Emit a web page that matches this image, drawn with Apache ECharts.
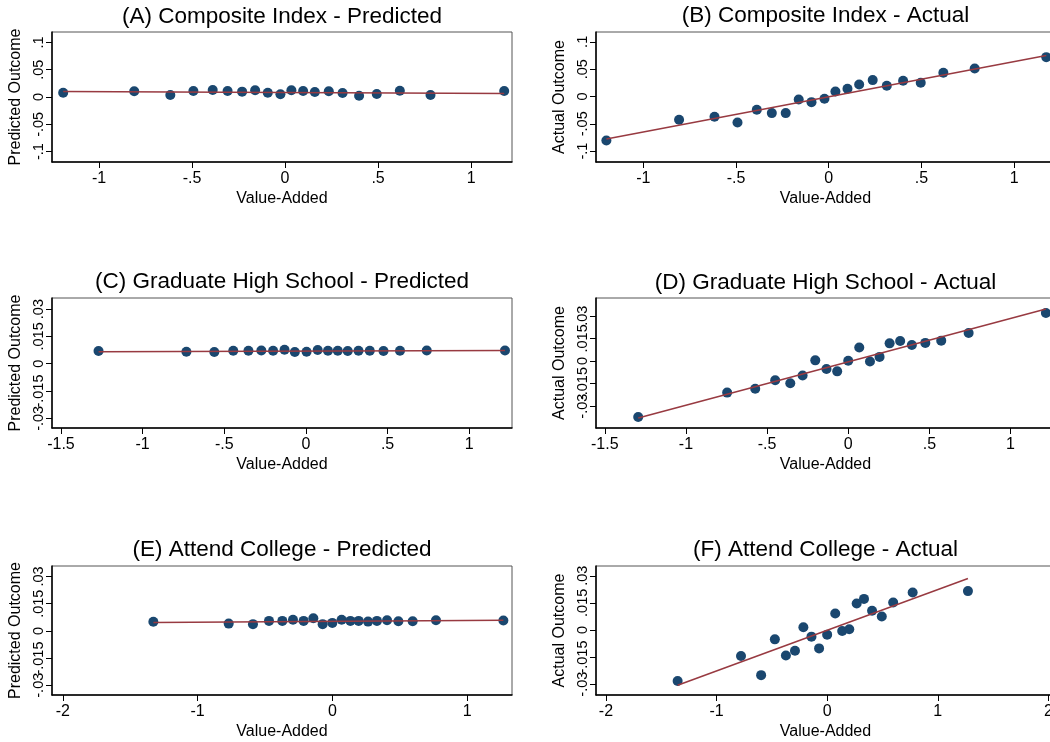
<!DOCTYPE html>
<html><head><meta charset="utf-8">
<script src="https://cdn.jsdelivr.net/npm/echarts@6/dist/echarts.min.js"></script>
<style>html,body{margin:0;padding:0;background:#fff;overflow:hidden;} #c{width:1060px;height:742px;}</style>
</head><body><div id="c"></div>
<script>
// ---------- data ----------
const titles = [
  '(A) Composite Index - Predicted', '(B) Composite Index - Actual',
  '(C) Graduate High School - Predicted', '(D) Graduate High School - Actual',
  '(E) Attend College - Predicted', '(F) Attend College - Actual'
];
const xTitle = 'Value-Added';
const yTitles = ['Predicted Outcome', 'Actual Outcome'];

const xA = [-1.193,-0.811,-0.617,-0.493,-0.389,-0.309,-0.231,-0.161,-0.093,-0.025,0.034,0.097,0.160,0.235,0.309,0.398,0.493,0.617,0.782,1.178];
const yA = [0.0079,0.0104,0.0037,0.0110,0.0128,0.0110,0.0098,0.0122,0.0079,0.0049,0.0122,0.0110,0.0091,0.0104,0.0073,0.0024,0.0055,0.0116,0.0037,0.0110];
const xB = [-1.199,-0.807,-0.616,-0.492,-0.388,-0.307,-0.232,-0.162,-0.093,-0.023,0.036,0.101,0.164,0.237,0.313,0.401,0.496,0.618,0.787,1.173];
const yB = [-0.0805,-0.0427,-0.0372,-0.0476,-0.0244,-0.0305,-0.0305,-0.0055,-0.0104,-0.0043,0.0091,0.0140,0.0220,0.0299,0.0195,0.0287,0.0250,0.0433,0.0512,0.0720];
const xC = [-1.270,-0.732,-0.561,-0.445,-0.352,-0.273,-0.201,-0.131,-0.068,0.004,0.072,0.135,0.195,0.256,0.322,0.391,0.475,0.576,0.740,1.219];
const yC = [0.0070,0.0066,0.0064,0.0071,0.0071,0.0073,0.0071,0.0077,0.0064,0.0066,0.0075,0.0071,0.0071,0.0070,0.0071,0.0071,0.0070,0.0071,0.0073,0.0073];
const xD = [-1.294,-0.746,-0.573,-0.450,-0.357,-0.281,-0.203,-0.134,-0.068,0.000,0.068,0.134,0.193,0.255,0.320,0.392,0.475,0.573,0.742,1.218];
const yD = [-0.0372,-0.0210,-0.0184,-0.0128,-0.0148,-0.0097,0.0004,-0.0053,-0.0069,0.0002,0.0089,-0.0004,0.0027,0.0117,0.0133,0.0106,0.0120,0.0135,0.0186,0.0319];
const xE = [-1.328,-0.769,-0.589,-0.470,-0.371,-0.292,-0.213,-0.141,-0.072,0.000,0.069,0.134,0.195,0.265,0.331,0.406,0.490,0.596,0.769,1.269];
const yE = [0.0050,0.0040,0.0037,0.0055,0.0055,0.0061,0.0055,0.0070,0.0037,0.0044,0.0061,0.0055,0.0055,0.0051,0.0055,0.0059,0.0053,0.0053,0.0059,0.0057];
const xF = [-1.352,-0.779,-0.597,-0.473,-0.373,-0.291,-0.215,-0.142,-0.073,0.000,0.073,0.136,0.200,0.267,0.333,0.406,0.494,0.597,0.773,1.273];
const yF = [-0.0283,-0.0144,-0.0250,-0.0052,-0.0141,-0.0115,0.0015,-0.0037,-0.0102,-0.0026,0.0091,-0.0006,0.0004,0.0146,0.0172,0.0106,0.0074,0.0152,0.0207,0.0215];

// fitted-line end points (x0, y0, x1, y1)
const fitA = [-1.193, 0.0101, 1.178, 0.0064];
const fitB = [-1.199, -0.0780, 1.173, 0.0750];
const fitC = [-1.270, 0.0066, 1.219, 0.0073];
const fitD = [-1.294, -0.0379, 1.218, 0.0345];
const fitE = [-1.328, 0.0046, 1.269, 0.0059];
const fitF = [-1.352, -0.0306, 1.273, 0.0285];

// tick values
const xTicksAB = [-1, -0.5, 0, 0.5, 1];
const yTicksAB = [-0.1, -0.05, 0, 0.05, 0.1];
const xTicksCD = [-1.5, -1, -0.5, 0, 0.5, 1];
const yTicksCDEF = [-0.03, -0.015, 0, 0.015, 0.03];
const xTicksE = [-2, -1, 0, 1];
const xTicksF = [-2, -1, 0, 1, 2];

// ---------- layout ----------
const panels = [
  {x: xA, y: yA, fit: fitA, xt: xTicksAB, yt: yTicksAB, yName: yTitles[0], left: 52,  top: 32,  w: 460, h: 130, xr: [-1.253, 1.22], yr: [-0.119, 0.119], tTop: 17},
  {x: xB, y: yB, fit: fitB, xt: xTicksAB, yt: yTicksAB, yName: yTitles[1], left: 596, top: 32,  w: 459, h: 130, xr: [-1.255, 1.22], yr: [-0.120, 0.118], tTop: 16.5},
  {x: xC, y: yC, fit: fitC, xt: xTicksCD, yt: yTicksCDEF, yName: yTitles[0], left: 52,  top: 298, w: 460, h: 130, xr: [-1.555, 1.262], yr: [-0.0353, 0.0361], tTop: 282.5},
  {x: xD, y: yD, fit: fitD, xt: xTicksCD, yt: yTicksCDEF, yName: yTitles[1], left: 596, top: 298, w: 459, h: 130, xr: [-1.554, 1.274], yr: [-0.0445, 0.0418], tTop: 283},
  {x: xE, y: yE, fit: fitE, xt: xTicksE, yt: yTicksCDEF, yName: yTitles[0], left: 52,  top: 566, w: 460, h: 129, xr: [-2.08, 1.333], yr: [-0.0354, 0.0358], tTop: 550.7},
  {x: xF, y: yF, fit: fitF, xt: xTicksF, yt: yTicksCDEF, yName: yTitles[1], left: 596, top: 566, w: 459, h: 129, xr: [-2.09, 2.06], yr: [-0.036, 0.0354], tTop: 550.7}
];

const FONT = "'Liberation Sans', Arial, Helvetica, sans-serif";
const NAVY = '#1a476f';
const MAROON = '#983a41';

function fmt(v) {
  let s = String(parseFloat(Number(v).toFixed(4)));
  if (s.startsWith('0.')) s = s.slice(1);
  else if (s.startsWith('-0.')) s = '-' + s.slice(2);
  return s;
}

const option = {
  animation: false,
  backgroundColor: '#fff',
  title: [], grid: [], xAxis: [], yAxis: [], series: []
};

const yLabelStyle = {rotate: 90, margin: 6, formatter: fmt,
  showMinLabel: true, showMaxLabel: true, hideOverlap: false,
  fontFamily: FONT, fontSize: 14.5, color: '#000'};

panels.forEach((p, i) => {
  option.title.push({
    text: titles[i], left: p.left + p.w / 2, top: p.tTop - 12, textAlign: 'center', padding: 0,
    textStyle: {fontFamily: FONT, fontSize: 22.5, fontWeight: 'normal', color: '#000'}
  });
  option.grid.push({
    left: p.left, top: p.top, width: p.w, height: p.h,
    show: true, borderColor: '#555', borderWidth: 1, backgroundColor: 'transparent'
  });
  option.xAxis.push({
    type: 'value', gridIndex: i, min: p.xr[0], max: p.xr[1],
    name: xTitle, nameLocation: 'middle', nameGap: 29, nameMoveOverlap: false,
    nameTextStyle: {fontFamily: FONT, fontSize: 16, color: '#000'},
    axisLine: {show: true, onZero: false, lineStyle: {color: '#000', width: 1.5}},
    axisTick: {show: true, length: 6, customValues: p.xt, lineStyle: {color: '#000', width: 1}},
    axisLabel: {show: true, customValues: p.xt, margin: 9, formatter: fmt,
      showMinLabel: true, showMaxLabel: true, hideOverlap: false,
      fontFamily: FONT, fontSize: 16, color: '#000'},
    splitLine: {show: false}
  });
  // primary y axis: line, ticks, name, even-indexed tick labels
  option.yAxis.push({
    type: 'value', gridIndex: i, min: p.yr[0], max: p.yr[1], position: 'left',
    name: p.yName, nameLocation: 'middle', nameGap: 28, nameMoveOverlap: false,
    nameTextStyle: {fontFamily: FONT, fontSize: 16, color: '#000'},
    axisLine: {show: true, onZero: false, lineStyle: {color: '#000', width: 1.5}},
    axisTick: {show: true, length: 6, customValues: p.yt, lineStyle: {color: '#000', width: 1}},
    axisLabel: Object.assign({show: true, customValues: p.yt.filter((v, k) => k % 2 === 0)}, yLabelStyle),
    splitLine: {show: false}
  });
  // companion y axis on the same grid: odd-indexed tick labels (Stata draws them overlapping)
  option.yAxis.push({
    type: 'value', gridIndex: i, min: p.yr[0], max: p.yr[1], position: 'left', offset: 0,
    axisLine: {show: false, onZero: false}, axisTick: {show: false},
    axisLabel: Object.assign({show: true, customValues: p.yt.filter((v, k) => k % 2 === 1)}, yLabelStyle),
    splitLine: {show: false}
  });
  option.series.push({
    type: 'scatter', xAxisIndex: i, yAxisIndex: 2 * i, symbol: 'circle', symbolSize: 10,
    itemStyle: {color: NAVY, opacity: 1}, z: 2,
    data: p.x.map((xv, k) => [xv, p.y[k]])
  });
  option.series.push({
    type: 'line', xAxisIndex: i, yAxisIndex: 2 * i, showSymbol: false, symbol: 'none', z: 3,
    lineStyle: {color: MAROON, width: 1.5},
    data: [[p.fit[0], p.fit[1]], [p.fit[2], p.fit[3]]]
  });
});

const chart = echarts.init(document.getElementById('c'), null, {renderer: 'canvas'});
chart.setOption(option);
</script>
</body></html>
